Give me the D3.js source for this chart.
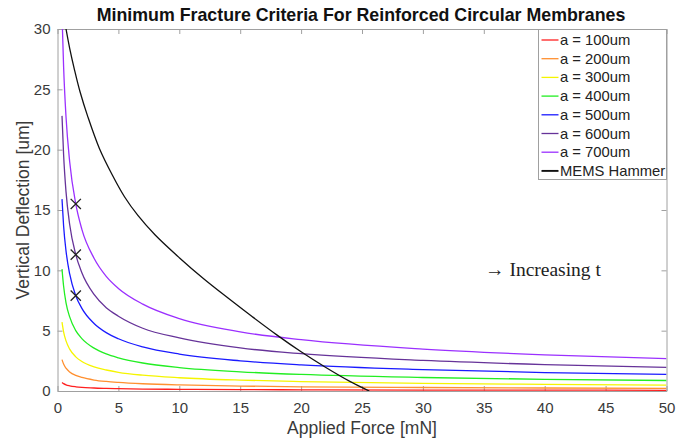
<!DOCTYPE html>
<html>
  <head>
    <meta charset="utf-8">
    <title>Minimum Fracture Criteria</title>
    <script src="https://cdn.jsdelivr.net/npm/d3@7"></script>
    <style>
      body { margin: 0; background: white; }
      svg { font-family: "Liberation Sans", Arial, sans-serif; }
      .axis path, .axis line { stroke: #a0a0a0; }
      .axis text { fill: #3a3a3a; font-size: 15px; }
      .curve { fill: none; stroke-width: 1.3; }
    </style>
  </head>
  <body>
    <script>
      var force = [0.37, 0.5, 0.7, 1, 1.5, 2, 3, 4, 5, 7, 10, 15, 20, 30, 40, 50];
      var a100 = [0.7, 0.61, 0.51, 0.43, 0.35, 0.3, 0.25, 0.21, 0.19, 0.16, 0.14, 0.11, 0.1, 0.08, 0.07, 0.06];
      var a200 = [2.6, 2.23, 1.89, 1.58, 1.29, 1.12, 0.91, 0.79, 0.71, 0.6, 0.5, 0.41, 0.35, 0.29, 0.25, 0.22];
      var a300 = [5.7, 4.9, 4.15, 3.47, 2.83, 2.45, 2.0, 1.74, 1.55, 1.31, 1.1, 0.9, 0.78, 0.63, 0.55, 0.49];
      var a400 = [10.1, 8.7, 7.3, 6.14, 5.0, 4.34, 3.55, 3.07, 2.75, 2.32, 1.94, 1.59, 1.37, 1.12, 0.97, 0.87];
      var a500 = [15.9, 13.7, 11.6, 9.7, 7.9, 6.85, 5.6, 4.84, 4.33, 3.66, 3.06, 2.5, 2.16, 1.77, 1.53, 1.37];
      var a600 = [22.8, 19.6, 16.5, 13.8, 11.3, 9.8, 8.0, 6.9, 6.2, 5.2, 4.4, 3.57, 3.09, 2.53, 2.19, 1.96];
      var a700 = [31.2, 26.9, 22.7, 19.0, 15.5, 13.4, 11.0, 9.5, 8.5, 7.2, 6.0, 4.9, 4.25, 3.47, 3.0, 2.69];

      var hammerForce = [0.7, 1.0, 1.4, 1.85, 2.5, 3.44, 4.5, 5.5, 6.6, 8, 10, 12, 14, 16, 18, 20, 22, 24, 25.6];
      var hammerDeflection = [30, 28.4, 26.6, 24.8, 22.7, 20.1, 17.9, 16.1, 14.55, 12.95, 11.05, 9.3, 7.7, 6.15, 4.65, 3.25, 1.97, 0.8, 0];

      var markerForce = [1.5, 1.5, 1.5];
      var markerDeflection = [15.5, 11.3, 7.9];

      var seriesNames = ['a = 100um', 'a = 200um', 'a = 300um', 'a = 400um', 'a = 500um', 'a = 600um', 'a = 700um'];
      var seriesColors = ['#ff2020', '#ff9030', '#f5f500', '#22ee22', '#1a1aff', '#663399', '#9b30ff'];
      var xTicks = [0, 5, 10, 15, 20, 25, 30, 35, 40, 45, 50];
      var yTicks = [0, 5, 10, 15, 20, 25, 30];

      var series = [a100, a200, a300, a400, a500, a600, a700];

      var margin = { left: 57.5, right: 23.5, top: 29, bottom: 49 };
      var width = 690, height = 440;
      var w = width - margin.left - margin.right, h = height - margin.top - margin.bottom;

      var svg = d3.select('body').append('svg').attr('width', width).attr('height', height);
      var g = svg.append('g').attr('transform', 'translate(' + margin.left + ',' + margin.top + ')');

      var x = d3.scaleLinear().domain([0, 50]).range([0, w]);
      var y = d3.scaleLinear().domain([0, 30]).range([h, 0]);

      g.append('clipPath').attr('id', 'clip').append('rect').attr('width', w).attr('height', h);

      // axes with inward ticks, box on
      g.append('g').attr('class', 'axis').attr('transform', 'translate(0,' + h + ')')
        .call(d3.axisBottom(x).tickValues(xTicks).tickSizeInner(-5).tickSizeOuter(0).tickPadding(11));
      g.append('g').attr('class', 'axis')
        .call(d3.axisLeft(y).tickValues(yTicks).tickSizeInner(-5).tickSizeOuter(0).tickPadding(7));
      g.append('g').attr('class', 'axis')
        .call(d3.axisTop(x).tickValues(xTicks).tickSizeInner(-5).tickSizeOuter(0).tickFormat(''));
      g.append('g').attr('class', 'axis').attr('transform', 'translate(' + w + ',0)')
        .call(d3.axisRight(y).tickValues(yTicks).tickSizeInner(-5).tickSizeOuter(0).tickFormat(''));

      var plot = g.append('g').attr('clip-path', 'url(#clip)');

      var line = d3.line()
        .x(function(d){ return x(d[0]) })
        .y(function(d){ return y(d[1]) })
        .curve(d3.curveMonotoneX);

      series.forEach(function(s, i) {
        plot.append('path').attr('class', 'curve')
          .datum(force.map(function(f, j){ return [f, s[j]] }))
          .attr('d', line).attr('stroke', seriesColors[i]);
      });

      plot.append('path').attr('class', 'curve')
        .datum(hammerForce.map(function(f, j){ return [f, hammerDeflection[j]] }))
        .attr('d', line.curve(d3.curveCatmullRom.alpha(0.5))).attr('stroke', '#111').attr('stroke-width', 1.9);

      g.selectAll('.marker').data(markerForce).enter().append('path')
        .attr('class', 'marker')
        .attr('transform', function(d, i){ return 'translate(' + x(d) + ',' + y(markerDeflection[i]) + ')' })
        .attr('d', d3.symbol().type(d3.symbolX).size(70))
        .attr('fill', 'none').attr('stroke', '#222').attr('stroke-width', 1.3);

      g.append('text').attr('x', x(35.1)).attr('y', y(10) + 6)
        .style('font-family', '"Liberation Serif", "DejaVu Serif", serif').style('font-size', '19.5px').attr('fill', '#222')
        .text('\u2192 Increasing t');

      // legend
      var legend = svg.append('g').attr('transform', 'translate(538.5,29.5)');
      legend.append('rect').attr('width', 128).attr('height', 150)
        .attr('fill', 'white').attr('stroke', '#a0a0a0');
      var legendNames = seriesNames.concat(['MEMS Hammer']);
      var legendColors = seriesColors.concat(['#111']);
      var rows = legend.selectAll('.row').data(legendNames).enter().append('g')
        .attr('transform', function(d, i){ return 'translate(0,' + (10.5 + i * 18.7) + ')' });
      rows.append('line').attr('x1', 3).attr('x2', 20)
        .attr('stroke', function(d, i){ return legendColors[i] })
        .attr('stroke-width', function(d, i){ return i === 7 ? 1.9 : 1.3 });
      rows.append('text').attr('x', 21.5).attr('y', 5).style('font-size', '14.8px').attr('fill', '#222')
        .text(function(d){ return d });

      svg.append('text').attr('x', 361).attr('y', 21).attr('text-anchor', 'middle')
        .style('font-size', '17.8px').style('font-weight', 'bold').attr('fill', '#111')
        .text('Minimum Fracture Criteria For Reinforced Circular Membranes');

      svg.append('text').attr('x', margin.left + w / 2).attr('y', 434).attr('text-anchor', 'middle')
        .style('font-size', '17.5px').attr('fill', '#3a3a3a').text('Applied Force [mN]');

      svg.append('text').attr('transform', 'translate(29,' + (margin.top + h / 2) + ') rotate(-90)')
        .attr('text-anchor', 'middle').style('font-size', '17.5px').attr('fill', '#3a3a3a')
        .text('Vertical Deflection [um]');
    </script>
  </body>
</html>
